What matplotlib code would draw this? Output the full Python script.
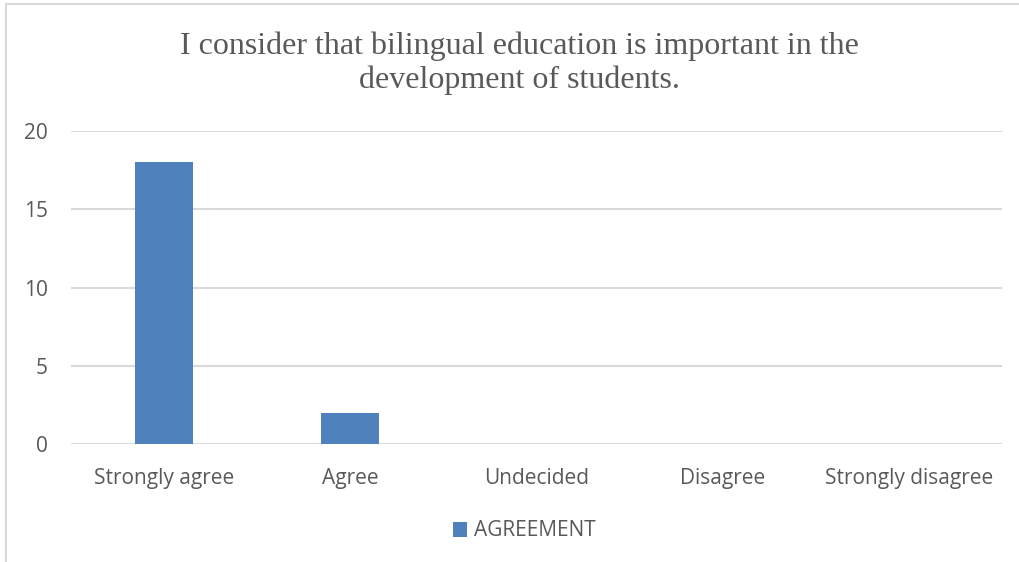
import matplotlib
matplotlib.use("Agg")
import matplotlib.pyplot as plt
from matplotlib.patches import Rectangle

# survey answers
categories = ["Strongly agree", "Agree", "Undecided", "Disagree", "Strongly disagree"]
agreement = [18, 2, 0, 0, 0]
yticks = [0, 5, 10, 15, 20]

W, H = 1020, 562
fig = plt.figure(figsize=(W / 100, H / 100), dpi=100)
ax = fig.add_axes([71 / W, 1 - 444 / H, (1002 - 71) / W, (444 - 131) / H])

txt = "#595959"
grid = "#D9D9D9"
blue = "#4F81BD"
sans = "Open Sans"

x = range(len(categories))
ax.bar(x, agreement, width=0.31, color=blue, label="AGREEMENT", zorder=3)

ax.set_xlim(-0.5, len(categories) - 0.5)
ax.set_ylim(0, 20)
ax.set_yticks(yticks)
ax.set_xticks(list(x))
ax.set_xticklabels(categories)
for s in ax.spines.values():
    s.set_visible(False)
ax.yaxis.grid(True, color=grid, linewidth=1.5, zorder=0)
ax.set_axisbelow(True)
ax.tick_params(length=0, labelsize=15, labelcolor=txt)
ax.tick_params(axis="x", pad=17.5)
ax.tick_params(axis="y", pad=16.5)
for lab in ax.get_xticklabels() + ax.get_yticklabels():
    lab.set_family(sans)

fig.text(519 / W, 1 - 63 / H,
         "I consider that bilingual education is important in the\ndevelopment of students.",
         ha="center", va="center", family="Liberation Serif", fontsize=23,
         color=txt, linespacing=1.22)

# legend below the axis
fig.legend(loc="center", bbox_to_anchor=(524 / W, 1 - 531 / H), frameon=False,
           prop={"family": sans, "size": 15}, labelcolor=txt,
           handlelength=0.7, handleheight=0.7, handletextpad=0.3)

# chart border
fig.patches.append(Rectangle((6 / W, -0.1), 1.2, 1 - 4 / H + 0.1,
                             transform=fig.transFigure, fill=False,
                             edgecolor=grid, linewidth=1.5))

fig.savefig("out.png", dpi=100, facecolor="white")
